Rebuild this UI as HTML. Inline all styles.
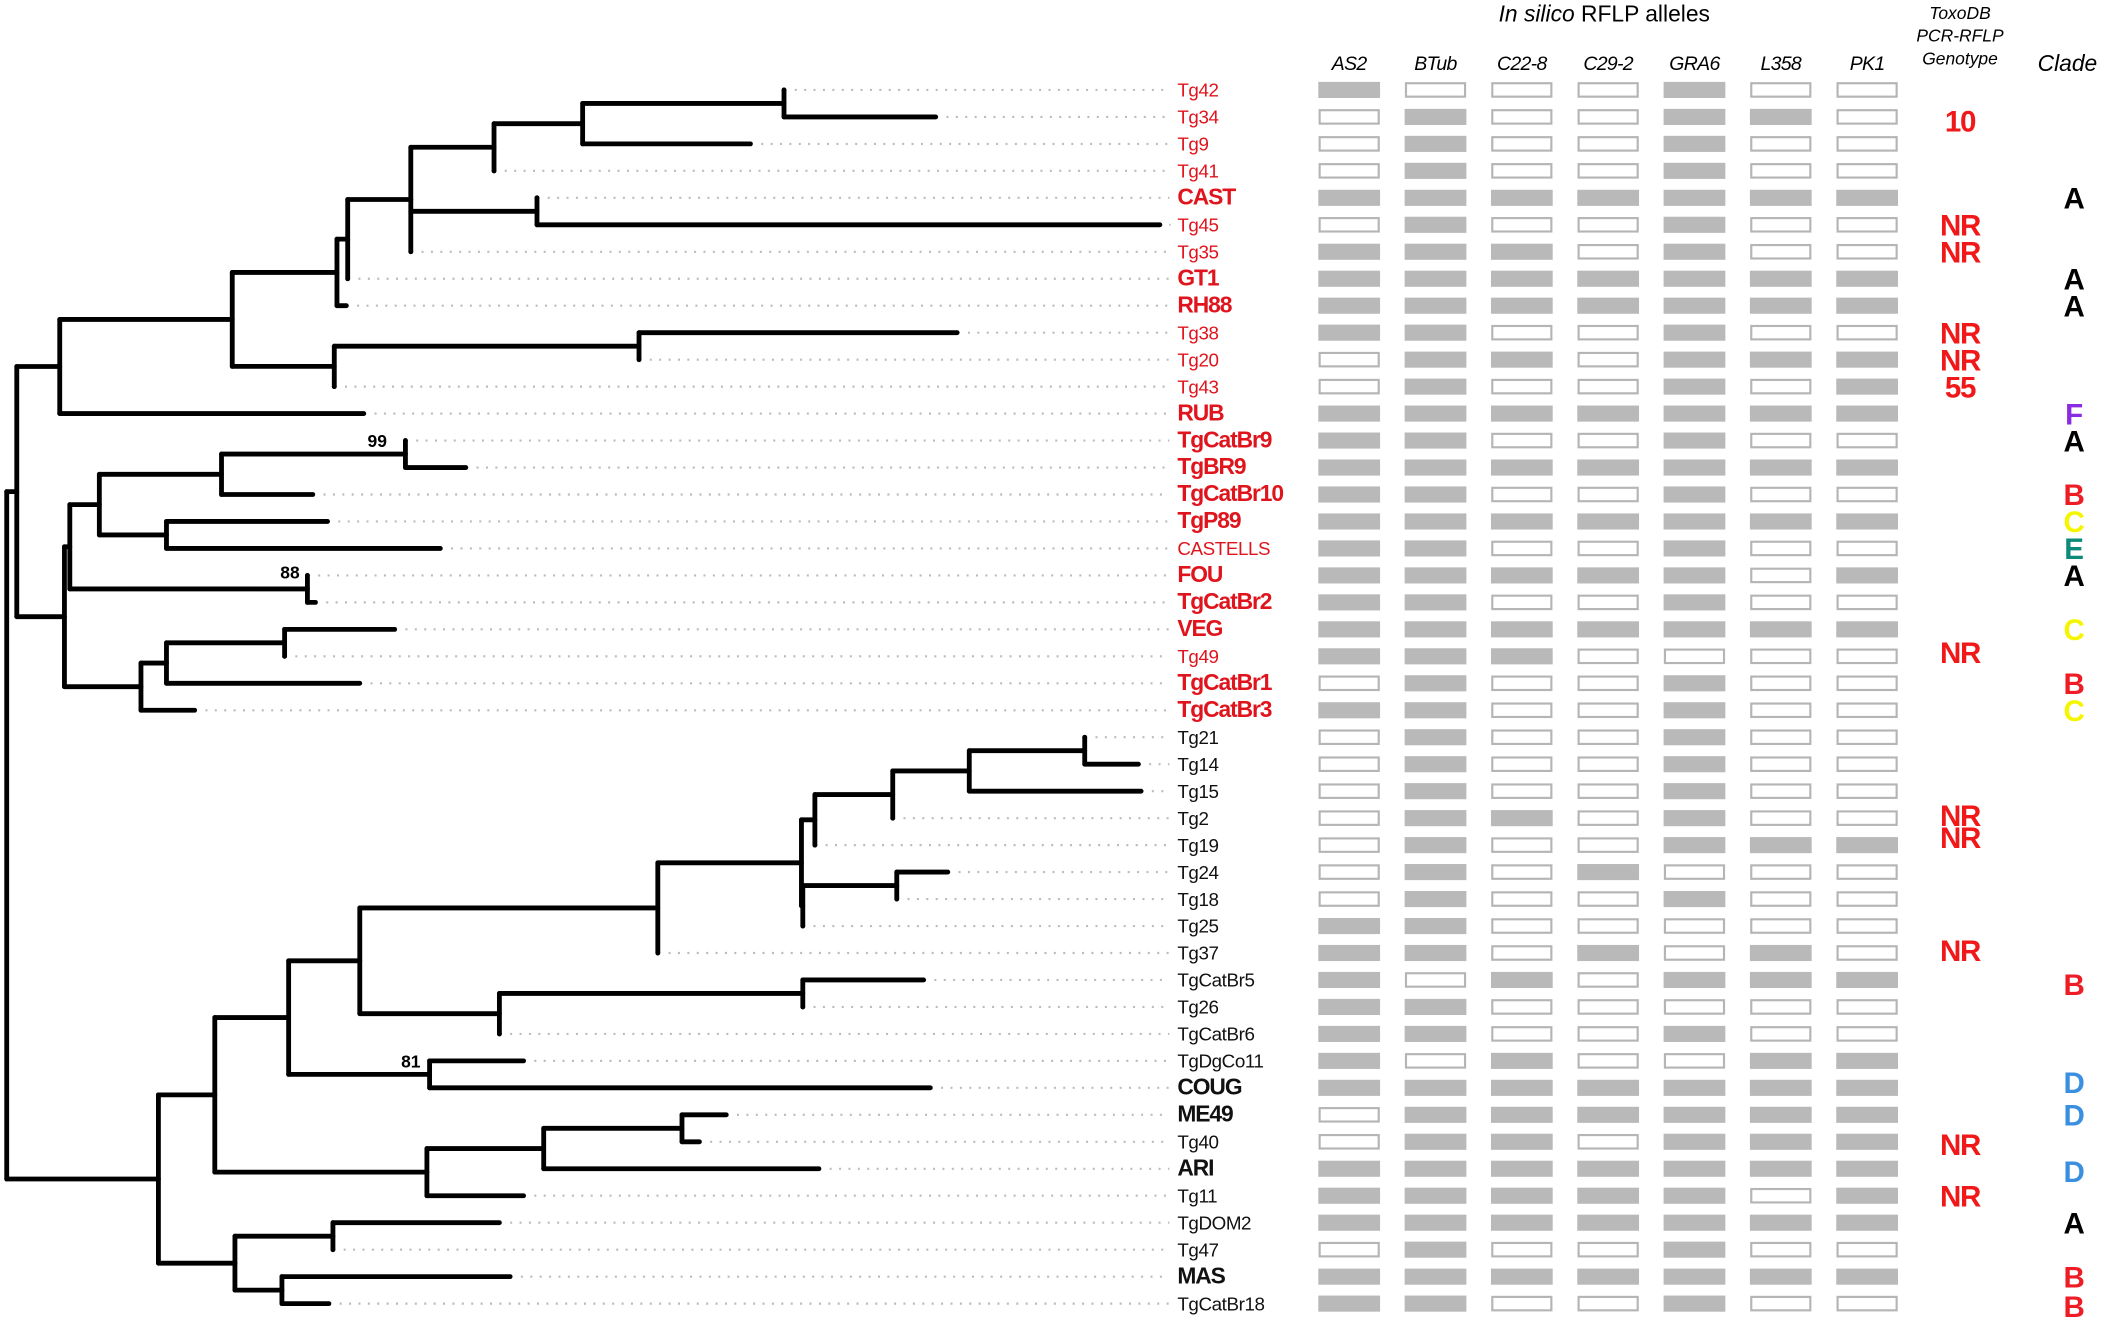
<!DOCTYPE html>
<html><head><meta charset="utf-8">
<style>
html,body{margin:0;padding:0;background:#fff;}
svg{display:block;}
text{font-family:"Liberation Sans",sans-serif;}
</style></head>
<body>
<svg id="chart" width="2105" height="1321" viewBox="0 0 1568 984" preserveAspectRatio="none" xmlns="http://www.w3.org/2000/svg">
<g id="tree"></g>
<g id="labels"></g>
<g id="bars"></g>
<g id="geno"></g>
<g id="clade"></g>
<text x="1195" y="16" font-size="17" text-anchor="middle"><tspan font-style="italic">In silico</tspan> RFLP alleles</text>
<text x="1460" y="14" font-size="13" font-style="italic" text-anchor="middle">ToxoDB</text>
<text x="1460" y="31" font-size="13" font-style="italic" text-anchor="middle">PCR-RFLP</text>
<text x="1460" y="48" font-size="13" font-style="italic" text-anchor="middle">Genotype</text>
<text x="1540" y="53" font-size="17" font-style="italic" text-anchor="middle">Clade</text>
<text x="281" y="333" font-size="13" font-weight="bold" text-anchor="middle">99</text>
<text x="216" y="431" font-size="13" font-weight="bold" text-anchor="middle">88</text>
<text x="306" y="795" font-size="13" font-weight="bold" text-anchor="middle">81</text>
</svg>
<script>
const NS="http://www.w3.org/2000/svg";
const strains=["Tg42","Tg34","Tg9","Tg41","CAST","Tg45","Tg35","GT1","RH88","Tg38","Tg20","Tg43","RUB","TgCatBr9","TgBR9","TgCatBr10","TgP89","CASTELLS","FOU","TgCatBr2","VEG","Tg49","TgCatBr1","TgCatBr3","Tg21","Tg14","Tg15","Tg2","Tg19","Tg24","Tg18","Tg25","Tg37","TgCatBr5","Tg26","TgCatBr6","TgDgCo11","COUG","ME49","Tg40","ARI","Tg11","TgDOM2","Tg47","MAS","TgCatBr18"];
const redCount=24;
const boldStrains=["CAST","GT1","RH88","RUB","TgCatBr9","TgBR9","TgCatBr10","TgP89","FOU","TgCatBr2","VEG","TgCatBr1","TgCatBr3","COUG","ME49","ARI","MAS"];
const markers=["AS2","BTub","C22-8","C29-2","GRA6","L358","PK1"];
const alleles=[
"1000100","0100110","0100100","0100100","1111111","0100100","1110100","1111111","1111111","1100100","0110111","0100101","1111111",
"1100100","1111111","1100100","1111111","1100100","1111101","1100100","1111111","1110000","0100100","1100100",
"0100100","0100100","0100100","0110100","0100111","0101000","0100100","1100000","1101010","1010111","1100000","1100100",
"1010011","1111111","0111111","0110111","1111111","1111101","1111111","0100100","1111111","1100100"];
const genotypes=[["10",1.15],["NR",5],["NR",6],["NR",9],["NR",10],["55",11],["NR",20.85],["NR",26.9],["NR",27.7],["NR",31.9],["NR",39.1],["NR",41]];
const clades=[["A",4,"#000"],["A",7,"#000"],["A",8,"#000"],["F",12,"#8a2be2"],["A",13,"#000"],["B",15,"#ee1c24"],["C",16,"#f5f500"],["E",17,"#0e8a7a"],["A",18,"#000"],["C",20,"#f5f500"],["B",22,"#ee1c24"],["C",23,"#f5f500"],["B",33.15,"#ee1c24"],["D",36.8,"#3b8fe0"],["D",38,"#3b8fe0"],["D",40.1,"#3b8fe0"],["A",42,"#000"],["B",44,"#ee1c24"],["B",45.1,"#ee1c24"]];
// tree: [x, children] internal; leaves ["name", x]
const tree=[5,[
 [12.5,[
  [44.5,[
   [173,[
    [251,[
     [259,[
      [306,[
       [368,[[434,[[584,[["Tg42",584],["Tg34",697]]],["Tg9",559]]],["Tg41",368]]],
       [400,[["CAST",400],["Tg45",864]]],
       ["Tg35",306]]],
      ["GT1",259]]],
     ["RH88",258]]],
    [249,[[476,[["Tg38",713],["Tg20",476]]],["Tg43",249]]]]],
   ["RUB",271]]],
  [48,[
   [52,[
    [74,[
     [165,[[302,[["TgCatBr9",302],["TgBR9",347]]],["TgCatBr10",233]]],
     [124,[["TgP89",244],["CASTELLS",328]]]]],
    [229,[["FOU",229],["TgCatBr2",235]]]]],
   [105,[[124,[[212,[["VEG",294],["Tg49",212]]],["TgCatBr1",268]]],["TgCatBr3",145]]]]]]],
 [118,[
  [160,[
   [215,[
    [268,[
     [490,[
      [597,[
       [607,[[665,[[722,[[808,[["Tg21",808],["Tg14",848]]],["Tg15",850]]],["Tg2",665]]],["Tg19",607]]],
       [598,[[668,[["Tg24",706],["Tg18",668]]],["Tg25",598]]]]],
      ["Tg37",490]]],
     [372,[[598,[["TgCatBr5",688],["Tg26",598]]],["TgCatBr6",372]]]]],
    [320,[["TgDgCo11",390],["COUG",693]]]]],
   [318,[[405,[[508,[["ME49",541],["Tg40",521]]],["ARI",610]]],["Tg11",390]]]]],
  [175,[[248,[["TgDOM2",372],["Tg47",248]]],[210,[["MAS",380],["TgCatBr18",245]]]]]]]]];

const y0=67, dy=20.09, labelX=877;
const rowY=i=>y0+i*dy;
const colX=j=>982+j*64.3;
const svg=document.getElementById('chart');
const gT=document.getElementById('tree'),gL=document.getElementById('labels'),gB=document.getElementById('bars'),gG=document.getElementById('geno'),gC=document.getElementById('clade');
function mk(tag,attrs,parent){const e=document.createElementNS(NS,tag);for(const k in attrs)e.setAttribute(k,attrs[k]);parent.appendChild(e);return e;}
function line(x1,y1,x2,y2,name){
 const l=mk('line',{x1:x1,y1:y1,x2:x2,y2:y2,stroke:'#000','stroke-width':3.6,'stroke-linecap':'round'},gT);
 
 
}
function layout(node){
 if(typeof node[0]==='string'){
  const i=strains.indexOf(node[0]);
  return {y:rowY(i),x:node[1],name:node[0]};
 }
 const kids=node[1].map(layout);
 const y=(kids[0].y+kids[kids.length-1].y)/2;
 line(node[0],kids[0].y,node[0],kids[kids.length-1].y,'tree-node-vertical');
 kids.forEach(k=>{line(node[0],k.y,k.x,k.y,k.name?('branch-'+k.name.toLowerCase()):'tree-branch');});
 return {y:y,x:node[0]};
}
layout(tree);
strains.forEach((s,i)=>{
 const y=rowY(i);
 // find tip x
 let tipX=0;(function f(n){if(typeof n[0]==='string'){if(n[0]===s)tipX=n[1];}else n[1].forEach(f);})(tree);
 const d=mk('line',{x1:tipX+8,y1:y,x2:labelX-6,y2:y,stroke:'#bbb','stroke-width':1.6,'stroke-dasharray':'1.5 5.5'},gL);
 
 
 const big=boldStrains.indexOf(s)>=0;
 const t=mk('text',{x:labelX,y:y+5,'font-size':big?17:14,'font-weight':big?'bold':'normal',fill:i<redCount?'#e0141c':'#111','letter-spacing':big?'-0.8':'-0.3'},gL);
 t.textContent=s;
 
 
 markers.forEach((m,j)=>{
  const on=alleles[i][j]==='1';
  const r=mk('rect',{x:colX(j)+(on?0:1),y:y-6+(on?0:1),width:on?46:44,height:on?12:10,fill:on?'#b9b9b9':'#fff',stroke:on?'none':'#b5b5b5','stroke-width':1.6},gB);
  
  
 });
});
markers.forEach((m,j)=>{
 const t=mk('text',{x:colX(j)+23,y:52,'font-size':14.5,'font-style':'italic','text-anchor':'middle','letter-spacing':'-0.5'},svg);
 t.textContent=m;
 
 
});
genotypes.forEach(g=>{
 const t=mk('text',{x:1460,y:rowY(g[1])+8,'font-size':22,'font-weight':'bold',fill:'#f01818','text-anchor':'middle','letter-spacing':'-1'},gG);
 t.textContent=g[0];
 
 
});
clades.forEach(c=>{
 const t=mk('text',{x:1545,y:rowY(c[1])+8,'font-size':22,'font-weight':'bold',fill:c[2],'text-anchor':'middle'},gC);
 t.textContent=c[0];
 
 
});
</script>
</body></html>
